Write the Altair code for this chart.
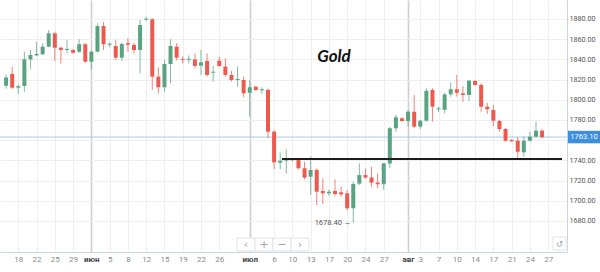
import json
import altair as alt
import pandas as pd

# ---------------- data ----------------
bars = list(range(-1, 88))  # bar index (Sun-Fri daily bars, 17 May = 0)
opens = [1814, 1825.5, 1812, 1813.7, 1840, 1844, 1845, 1852.6, 1865.8, 1851.6,
         1849.3, 1849.3, 1847.6, 1855, 1837.7, 1847.6, 1873, 1854.5, 1853.3, 1841.7,
         1856, 1854.3, 1849.3, 1879.3, 1879.7, 1822.9, 1812.4, 1835.4, 1852.6, 1840.6,
         1839.6, 1840, 1833.8, 1838.4, 1826.8, 1838.7, 1832.8, 1824.6, 1819.6, 1819.6,
         1807, 1813, 1809.4, 1809.7, 1768.4, 1737.7, 1739.8, 1741, 1740.3, 1732.2,
         1723.9, 1730.5, 1709.7, 1707.4, 1709.7, 1708.4, 1707.4, 1692.6, 1717, 1725.5,
         1723, 1718, 1716.4, 1736.9, 1771.8, 1781.7, 1779, 1788.2, 1773.4, 1779.3,
         1809.7, 1790.5, 1790.1, 1805.4, 1810.4, 1806.4, 1804.8, 1818.6, 1814.7, 1793.2,
         1789.9, 1779, 1771.1, 1760.2, 1759.5, 1748, 1759.5, 1763.5, 1769.4]
highs = [1825, 1832.8, 1815, 1847.6, 1849.3, 1857.5, 1855.9, 1869, 1867.4, 1852.6,
         1859.2, 1850.3, 1859.9, 1856, 1848.6, 1875.7, 1877, 1857, 1859.2, 1856.5,
         1860.9, 1856.5, 1879, 1882, 1880.7, 1832.2, 1839.4, 1860, 1856, 1843,
         1844, 1846, 1849.3, 1846, 1833.5, 1842.7, 1841, 1828.7, 1832.8, 1822.9,
         1819.6, 1813.6, 1812.4, 1811.4, 1770, 1747.6, 1751, 1742, 1741.7, 1738.7,
         1743.7, 1732.2, 1722.3, 1711, 1721.3, 1714, 1710.7, 1719, 1737, 1732,
         1733.8, 1727, 1737.5, 1773.4, 1785, 1782.7, 1789.9, 1804.8, 1780, 1811.4,
         1811.4, 1793, 1807, 1817, 1824.6, 1813.6, 1819.6, 1819.6, 1816.3, 1797,
         1794.9, 1780, 1772, 1760.9, 1762.9, 1763.5, 1768.4, 1778.3, 1770.8]
lows = [1811, 1810.7, 1805.7, 1808, 1830.2, 1843.5, 1844.5, 1852, 1838.4, 1836,
        1846, 1845.5, 1846.6, 1836.7, 1830.2, 1847, 1849.3, 1852, 1839.4, 1838.4,
        1847.6, 1846, 1826.2, 1878, 1809.7, 1806.4, 1808, 1816.3, 1839, 1836,
        1836, 1831.2, 1824.6, 1822.9, 1818, 1832.8, 1822.9, 1818, 1813, 1802.5,
        1783.3, 1809, 1806, 1761.9, 1731.2, 1731.2, 1727, 1739, 1731, 1721.3,
        1705.7, 1695.8, 1696.8, 1705, 1704.8, 1704, 1690.6, 1678.4, 1715.6, 1722,
        1714, 1712.4, 1710.7, 1732.2, 1768.4, 1778.4, 1773.4, 1771.8, 1771, 1778.4,
        1778.4, 1788, 1786.6, 1803, 1803.1, 1798.1, 1798.8, 1814, 1788.2, 1786,
        1774, 1768.4, 1758.5, 1758.2, 1740.4, 1743.7, 1758.5, 1762.9, 1761.9]
closes = [1822, 1812, 1813.6, 1840.1, 1844.4, 1845.3, 1852.6, 1865.8, 1851.6, 1849.3,
          1850, 1846.6, 1855, 1837.7, 1847.6, 1873, 1855, 1855.3, 1841.7, 1855.2,
          1854.6, 1849.3, 1874, 1880.2, 1822.9, 1812.4, 1835.4, 1853.3, 1841.7, 1839.6,
          1840.6, 1833.5, 1837.1, 1824.6, 1827.8, 1833.5, 1824.6, 1819.6, 1820.4, 1806.4,
          1812.4, 1809.7, 1810.2, 1768.4, 1738.1, 1739.7, 1740.6, 1740.2, 1732.2, 1722.9,
          1730.5, 1709, 1707.4, 1709, 1706.7, 1706.4, 1692.6, 1716.7, 1725.5, 1723,
          1718, 1716.4, 1737, 1771.8, 1782.7, 1779, 1788.2, 1773.4, 1779.3, 1809,
          1793.2, 1791.4, 1805.4, 1810.4, 1807, 1804.8, 1818.9, 1814.7, 1793.2, 1790.6,
          1779.3, 1771.1, 1759.5, 1758.9, 1748.6, 1759.5, 1763.5, 1769.4, 1763.1]

tick_idx = [1, 4, 7, 10, 13, 16, 19, 22, 25, 28, 31, 34, 39, 43, 46, 49, 52, 55,
            58, 61, 65, 67, 70, 73, 76, 79, 82, 85, 88]
tick_lab = ["18", "22", "25", "29", "июн", "5", "8", "12", "15", "19", "22", "26",
            "июл", "6", "10", "13", "17", "20", "24", "27", "авг", "3", "7", "10",
            "14", "17", "21", "24", "27"]
month_idx = [13, 39, 65]
y_ticks = [1680, 1700, 1720, 1740, 1760, 1780, 1800, 1820, 1840, 1860, 1880]

title_text = "Gold"
last_price = 1763.10
support_level = 1741.4
support_from = 44.3
low_bar = 56
low_value = 1678.40

# ---------------- build ----------------
df = pd.DataFrame({"bar": bars, "open": opens, "high": highs, "low": lows, "close": closes})
df["dir"] = ["up" if c >= o else "down" for o, c in zip(df.open, df.close)]
df["btm"] = df[["open", "close"]].min(axis=1)
df["top"] = df[["open", "close"]].max(axis=1)
df["top"] = [max(t, b + 1.0) for t, b in zip(df.top, df.btm)]

GREEN = "#5aa382"
RED = "#ec5a4f"

XMIN, XMAX = -1.18, 90.27
YMIN, YMAX = 1649.3, 1898.8

lab_arr = [""] * 89
for i, l in zip(tick_idx, tick_lab):
    lab_arr[i] = l
label_expr = json.dumps(lab_arr, ensure_ascii=False) + "[datum.value]"
month_test = " || ".join(f"datum.value == {m}" for m in month_idx)

xs = alt.Scale(domain=[XMIN, XMAX], nice=False, zero=False)
ys = alt.Scale(domain=[YMIN, YMAX], nice=False, zero=False)

xaxis = alt.Axis(
    values=tick_idx, labelExpr=label_expr, title=None, orient="bottom",
    ticks=False, labelFontSize=8, labelFont="Roboto", labelPadding=3,
    labelColor=alt.condition(month_test, alt.value("#444444"), alt.value("#8a8a8a")),
    labelFontWeight=alt.condition(month_test, alt.value("bold"), alt.value("normal")),
    labelFlush=False, labelOverlap=False,
    domainColor="#c9d6e6", grid=True,
    gridColor=alt.condition(month_test, alt.value("#cfcfcf"), alt.value("#efefef")),
    gridWidth=alt.condition(month_test, alt.value(1.6), alt.value(1)),
)
yaxis = alt.Axis(
    values=y_ticks, orient="right", title=None, ticks=False,
    labelExpr="datum.value == 1760 ? '' : format(datum.value, '.2f')",
    labelFontSize=7.2, labelFont="Roboto", labelColor="#555555", labelPadding=2,
    domainColor="#c9d6e6", grid=True, gridColor="#efefef",
)

base = alt.Chart(df)
color = alt.Color("dir:N", scale=alt.Scale(domain=["up", "down"], range=[GREEN, RED]), legend=None)

wicks = base.mark_rule(strokeWidth=1, opacity=0.75, clip=True).encode(
    x=alt.X("bar:Q", scale=xs, axis=xaxis),
    y=alt.Y("low:Q", scale=ys, axis=yaxis),
    y2="high:Q",
    color=color,
)
bodies = base.mark_bar(size=4, clip=True).encode(
    x=alt.X("bar:Q", scale=xs, axis=xaxis),
    y=alt.Y("btm:Q", scale=ys, axis=yaxis),
    y2="top:Q",
    color=color,
)

one = pd.DataFrame({"k": [0]})

price_line = alt.Chart(one).mark_rule(color="#a9c8ec", strokeWidth=1).encode(
    y=alt.Y(datum=last_price, scale=ys, axis=yaxis),
)
support = alt.Chart(one).mark_rule(color="#1c1c1c", strokeWidth=2).encode(
    x=alt.X(datum=support_from, scale=xs, axis=xaxis),
    x2=alt.datum(XMAX),
    y=alt.Y(datum=support_level, scale=ys, axis=yaxis),
)
low_note = alt.Chart(one).mark_text(
    align="right", baseline="middle", fontSize=7.5, font="Roboto", color="#555555", dx=-2
).encode(
    x=alt.X(datum=low_bar, scale=xs, axis=xaxis),
    y=alt.Y(datum=low_value, scale=ys, axis=yaxis),
    text=alt.value(f"{low_value:.2f} →"),
)
title = alt.Chart(one).mark_text(
    font="Lato", fontSize=17, fontWeight="bold", fontStyle="italic", color="#111111",
    align="center", baseline="middle",
).encode(x=alt.value(334), y=alt.value(57), text=alt.value(title_text))

price_box = alt.Chart(one).mark_rect(color="#3d8fdc").encode(
    x=alt.value(568), x2=alt.value(600),
    y=alt.Y(datum=last_price + 6.2, scale=ys, axis=yaxis),
    y2=alt.datum(last_price - 6.2),
)
price_txt = alt.Chart(one).mark_text(
    fontSize=7.5, font="Roboto", color="white", align="center", baseline="middle"
).encode(
    x=alt.value(584),
    y=alt.Y(datum=last_price, scale=ys, axis=yaxis),
    text=alt.value(f"{last_price:.2f}"),
)

# navigation widget (chart UI decoration)
ui = []
cells = [(237, 255, "‹"), (255, 273, "+"), (273, 291, "−"), (291, 309, "›")]
for a, b, sym in cells:
    ui.append(alt.Chart(one).mark_rect(fill="white", stroke="#e0e3eb", strokeWidth=1).encode(
        x=alt.value(a), x2=alt.value(b), y=alt.value(238), y2=alt.value(251)))
    ui.append(alt.Chart(one).mark_text(fontSize=11, color="#a0a4ad", font="DejaVu Sans").encode(
        x=alt.value((a + b) / 2), y=alt.value(244.5), text=alt.value(sym)))
ui.append(alt.Chart(one).mark_rect(fill="white", stroke="#e0e3eb", strokeWidth=1).encode(
    x=alt.value(553), x2=alt.value(566), y=alt.value(237), y2=alt.value(250)))
ui.append(alt.Chart(one).mark_text(fontSize=9, color="#a0a4ad", font="DejaVu Sans").encode(
    x=alt.value(559.5), y=alt.value(243.5), text=alt.value("↺")))

chart = alt.layer(
    price_line, wicks, bodies, support, low_note, title, price_box, price_txt, *ui
).properties(
    width=567, height=252,
    autosize=alt.AutoSizeParams(type="none"),
    padding={"left": 0, "top": 0, "right": 33, "bottom": 20},
    background="white",
).configure_view(stroke=None)

chart.save("out.html", embed_options={"renderer": "svg", "actions": False})
